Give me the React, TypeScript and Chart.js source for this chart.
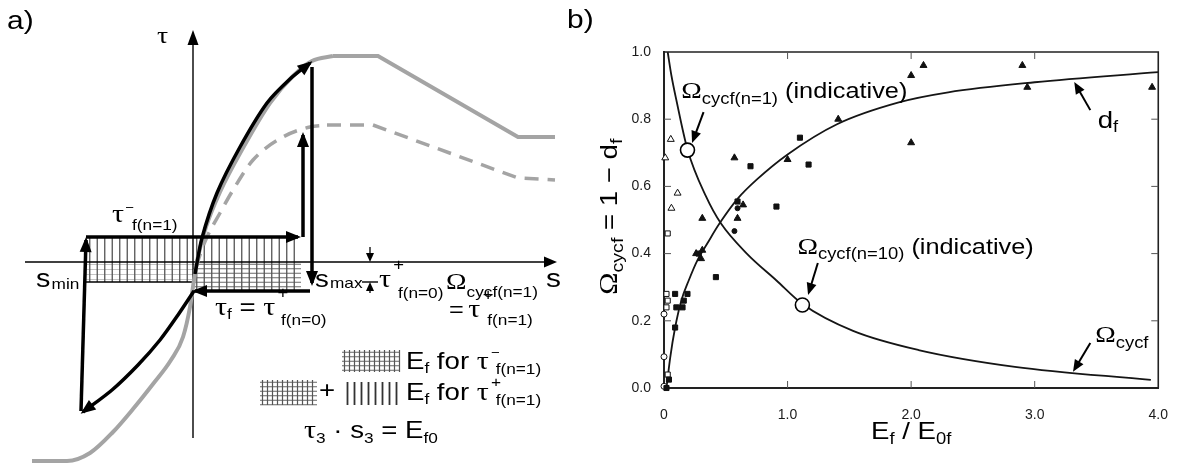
import React, { useEffect, useRef } from 'react';
import { Chart, registerables } from 'chart.js';

Chart.register(...registerables);

const SANS = '"Liberation Sans", Arial, Helvetica, sans-serif';
const SERIF = '"Liberation Serif", "Times New Roman", Times, serif';
const SX = 1.15;
const fnt = (size: number, fam: string = SANS) => `${size}px ${fam}`;

type Pt = { x: number; y: number };
const P = (a: number[][]): Pt[] => a.map(([x, y]) => ({ x, y }));

// ---------------- Panel a: schematic (s, tau) units ----------------
const envelopeCurve = [[-1.61, -1.99], [-1.26, -1.99], [-1.03, -1.91], [-0.8, -1.7], [-0.6, -1.47], [-0.4, -1.22], [-0.22, -0.98], [-0.1, -0.75], [-0.03, -0.45], [0.01, -0.18], [0.05, 0.05], [0.13, 0.35], [0.27, 0.7], [0.5, 1.14], [0.77, 1.59], [1.0, 1.86], [1.19, 2.01], [1.4, 2.06]];
const envelopeTail = [[1.4, 2.06], [1.85, 2.06], [3.25, 1.25], [3.62, 1.25]];
const degradedCurve = [[0.03, -0.05], [0.08, 0.1], [0.14, 0.25], [0.27, 0.49], [0.4, 0.72], [0.6, 1.02], [0.9, 1.25], [1.17, 1.35], [1.34, 1.37]];
const degradedTail = [[1.34, 1.37], [1.8, 1.37], [3.25, 0.84], [3.62, 0.82]];

const loadingPath = [[0.02, -0.12], [0.09, 0.24], [0.24, 0.69], [0.47, 1.15], [0.74, 1.59], [0.97, 1.83], [1.17, 1.99]];
const dropPath = [[1.19, 1.95], [1.19, -0.21]];
const frictionPath = [[1.17, -0.29], [0.02, -0.29]];
const reversePath = [[0.01, -0.29], [-0.15, -0.53], [-0.33, -0.78], [-0.55, -1.03], [-0.81, -1.28], [-1.1, -1.5]];
const minPath = [[-1.12, -1.49], [-1.07, 0.22]];
const returnPath = [[-1.07, 0.25], [1.05, 0.25]];
const reloadPath = [[1.1, 0.25], [1.1, 1.27]];

const S_MIN = -1.07;
const S_MAX = 1.06;
const TAU_MINUS = 0.25;
const TAU_PLUS0 = -0.2;
const TAU_F = -0.29;
const S_AXIS = [-1.68, 3.64];
const TAU_AXIS = [-1.76, 2.32];

// ---------------- Panel b: data ----------------
const xTickValues = [0, 1, 2, 3, 4];
const xTickLabels = ['0', '1.0', '2.0', '3.0', '4.0'];
const yTickValues = [0, 0.2, 0.4, 0.6, 0.8, 1.0];
const yTickLabels = ['0.0', '0.2', '0.4', '0.6', '0.8', '1.0'];
const xInnerTicks = [1, 2, 3];
const yInnerTicks = [0.2, 0.4, 0.6, 0.8];

const dfCurve = [[0.02, 0.0], [0.05, 0.09], [0.09, 0.18], [0.14, 0.26], [0.2, 0.32], [0.27, 0.38], [0.35, 0.43], [0.45, 0.49], [0.6, 0.565], [0.75, 0.62], [1.0, 0.695], [1.4, 0.785], [1.9, 0.85], [2.3, 0.88], [3.0, 0.91], [4.0, 0.94]];
const omegaCurve = [[0.03, 1.0], [0.06, 0.93], [0.1, 0.857], [0.19, 0.71], [0.34, 0.57], [0.46, 0.49], [0.67, 0.4], [0.91, 0.32], [1.12, 0.25], [1.53, 0.17], [2.06, 0.113], [2.84, 0.063], [3.94, 0.024]];
const cycleMarkers = [[0.19, 0.708], [1.12, 0.247]];

const filledTriangles = [[0.57, 0.685], [1.0, 0.68], [0.31, 0.505], [0.64, 0.545], [0.595, 0.505], [0.26, 0.4], [0.31, 0.41], [0.3, 0.385], [1.41, 0.8], [2.0, 0.73], [2.0, 0.93], [2.1, 0.96], [2.9, 0.96], [2.94, 0.895], [3.95, 0.895]];
const filledSquares = [[0.7, 0.66], [1.1, 0.745], [1.17, 0.665], [0.595, 0.555], [0.91, 0.54], [0.42, 0.33], [0.09, 0.28], [0.19, 0.28], [0.16, 0.26], [0.1, 0.24], [0.15, 0.24], [0.09, 0.18], [0.04, 0.025], [0.02, 0.0], [0.28, 0.4]];
const filledCircles = [[0.595, 0.535], [0.57, 0.467]];
const openTriangles = [[0.055, 0.74], [0.01, 0.685], [0.11, 0.58], [0.06, 0.535]];
const openSquares = [[0.03, 0.46], [0.02, 0.28], [0.03, 0.26], [0.02, 0.24], [0.03, 0.04]];
const openCircles = [[0.0, 0.22], [0.0, 0.093], [0.0, 0.005]];

// ---------------- helpers ----------------
type Part = { t: string; f: string; dy?: number; dx?: number; adv?: boolean };

function rich(ctx: CanvasRenderingContext2D, x: number, y: number, parts: Part[], align = 'left', rot = 0) {
  ctx.save();
  ctx.translate(x, y);
  if (rot) ctx.rotate(rot);
  ctx.scale(SX, 1);
  ctx.textBaseline = 'alphabetic';
  ctx.textAlign = 'left';
  let w = 0;
  for (const p of parts) {
    ctx.font = p.f;
    w += (p.dx || 0) + (p.adv === false ? 0 : ctx.measureText(p.t).width);
  }
  let cx = align === 'center' ? -w / 2 : align === 'right' ? -w : 0;
  ctx.fillStyle = '#000';
  for (const p of parts) {
    ctx.font = p.f;
    cx += p.dx || 0;
    ctx.fillText(p.t, cx, p.dy || 0);
    if (p.adv !== false) cx += ctx.measureText(p.t).width;
  }
  ctx.restore();
}

function drawHead(ctx: CanvasRenderingContext2D, x0: number, y0: number, x1: number, y1: number, len: number, hw: number, ext = 0) {
  const a = Math.atan2(y1 - y0, x1 - x0);
  const c = Math.cos(a), s = Math.sin(a);
  const tx = x1 + c * ext, ty = y1 + s * ext;
  const bx = tx - c * len, by = ty - s * len;
  ctx.beginPath();
  ctx.moveTo(tx, ty);
  ctx.lineTo(bx - s * hw, by + c * hw);
  ctx.lineTo(bx + s * hw, by - c * hw);
  ctx.closePath();
  ctx.fill();
}

function arrow(ctx: CanvasRenderingContext2D, x0: number, y0: number, x1: number, y1: number, lw: number, len: number, hw: number) {
  const a = Math.atan2(y1 - y0, x1 - x0);
  ctx.lineWidth = lw;
  ctx.beginPath();
  ctx.moveTo(x0, y0);
  ctx.lineTo(x1 - Math.cos(a) * len * 0.6, y1 - Math.sin(a) * len * 0.6);
  ctx.stroke();
  drawHead(ctx, x0, y0, x1, y1, len, hw);
}

function vlines(ctx: CanvasRenderingContext2D, x0: number, x1: number, y0: number, y1: number, step: number, color: string, lw: number) {
  ctx.strokeStyle = color;
  ctx.lineWidth = lw;
  ctx.beginPath();
  for (let x = Math.min(x0, x1) + step / 2; x < Math.max(x0, x1); x += step) {
    ctx.moveTo(x, y0);
    ctx.lineTo(x, y1);
  }
  ctx.stroke();
}
function hlines(ctx: CanvasRenderingContext2D, x0: number, x1: number, y0: number, y1: number, step: number, color: string, lw: number) {
  ctx.strokeStyle = color;
  ctx.lineWidth = lw;
  ctx.beginPath();
  for (let y = Math.min(y0, y1) + step / 2; y < Math.max(y0, y1); y += step) {
    ctx.moveTo(x0, y);
    ctx.lineTo(x1, y);
  }
  ctx.stroke();
}

const tau = (size = 26): Part => ({ t: 'τ', f: fnt(size, SERIF) });
const om = (size = 24): Part => ({ t: 'Ω', f: fnt(size, SERIF) });

const labelsA: { s: number; y: number; parts: Part[] }[] = [
  { s: -0.36, y: 2.19, parts: [tau(24)] },
  { s: -0.81, y: 0.4, parts: [tau(), { t: '−', f: fnt(13), dx: 1, dy: -10, adv: false }, { t: 'f(n=1)', f: fnt(15), dx: 6, dy: 8 }] },
  { s: -1.57, y: -0.25, parts: [{ t: 's', f: fnt(25) }, { t: 'min', f: fnt(15), dx: 1, dy: 2 }] },
  { s: 1.22, y: -0.25, parts: [{ t: 's', f: fnt(24) }, { t: 'max', f: fnt(15), dx: 1, dy: 1 }] },
  { s: 1.86, y: -0.25, parts: [tau(), { t: '+', f: fnt(16), dx: 2, dy: -17, adv: false }, { t: 'f(n=0)', f: fnt(15), dx: 4, dy: 11 }] },
  { s: 2.53, y: -0.27, parts: [om(24), { t: 'cycf(n=1)', f: fnt(15), dy: 8 }] },
  { s: 2.56, y: -0.55, parts: [{ t: '=', f: fnt(22) }, { t: 'τ', f: fnt(26, SERIF), dx: 4 }, { t: '+', f: fnt(16), dx: 2, dy: -17, adv: false }, { t: 'f(n=1)', f: fnt(15), dx: 4, dy: 8 }] },
  { s: 0.22, y: -0.53, parts: [tau(), { t: 'f', f: fnt(15), dy: 4 }, { t: ' = ', f: fnt(24) }, tau(), { t: '+', f: fnt(16), dx: 2, dy: -17, adv: false }, { t: 'f(n=0)', f: fnt(15), dx: 3, dy: 10 }] },
  { s: 3.53, y: -0.25, parts: [{ t: 's', f: fnt(26) }] },
  { s: 2.13, y: -1.07, parts: [{ t: 'E', f: fnt(24) }, { t: 'f', f: fnt(15), dy: 4 }, { t: ' for ', f: fnt(24) }, tau(), { t: '−', f: fnt(13), dx: 2, dy: -12, adv: false }, { t: 'f(n=1)', f: fnt(15), dx: 4, dy: 5 }] },
  { s: 2.13, y: -1.38, parts: [{ t: 'E', f: fnt(24) }, { t: 'f', f: fnt(15), dy: 4 }, { t: ' for ', f: fnt(24) }, tau(), { t: '+', f: fnt(15), dx: 2, dy: -13, adv: false }, { t: 'f(n=1)', f: fnt(15), dx: 4, dy: 5 }] },
  { s: 1.26, y: -1.36, parts: [{ t: '+', f: fnt(24) }] },
  { s: 1.11, y: -1.76, parts: [tau(), { t: '3', f: fnt(15), dy: 5 }, { t: ' · ', f: fnt(24) }, { t: 's', f: fnt(24) }, { t: '3', f: fnt(15), dy: 5 }, { t: ' = ', f: fnt(24) }, { t: 'E', f: fnt(24) }, { t: 'f0', f: fnt(15), dy: 5 }] },
];

const swatchGridA = { s0: 1.49, s1: 2.07, t0: -0.88, t1: -1.1 };
const swatchGridB = { s0: 0.67, s1: 1.24, t0: -1.18, t1: -1.43 };
const swatchLines = { s0: 1.51, s1: 2.07, t0: -1.2, t1: -1.43 };

const panelAPlugin = {
  id: 'panelA',
  beforeDatasetsDraw(chart: any) {
    const { ctx, scales } = chart;
    const X = (v: number) => scales.x.getPixelForValue(v);
    const Y = (v: number) => scales.y.getPixelForValue(v);
    ctx.save();
    hlines(ctx, X(S_MIN), X(0), Y(TAU_PLUS0), Y(0), 5, '#c4c4c4', 1);
    hlines(ctx, X(0), X(S_MAX + 0.02), Y(TAU_F), Y(0), 4.5, '#6a6a6a', 1);
    vlines(ctx, X(S_MIN), X(0), Y(TAU_PLUS0), Y(TAU_MINUS), 7.5, '#555', 1.3);
    vlines(ctx, X(0), X(S_MAX), Y(TAU_F), Y(TAU_MINUS), 7.5, '#555', 1.3);
    ctx.strokeStyle = '#000';
    ctx.lineWidth = 1.4;
    ctx.beginPath();
    ctx.moveTo(X(S_MIN), Y(TAU_PLUS0));
    ctx.lineTo(X(0), Y(TAU_PLUS0));
    ctx.stroke();
    const sw = (b: any, grid: boolean) => {
      if (grid) {
        hlines(ctx, X(b.s0), X(b.s1), Y(b.t0), Y(b.t1), 4.5, '#666', 1);
        vlines(ctx, X(b.s0), X(b.s1), Y(b.t0), Y(b.t1), 5, '#555', 1.2);
      } else {
        vlines(ctx, X(b.s0), X(b.s1), Y(b.t0), Y(b.t1), 7, '#333', 1.8);
      }
    };
    sw(swatchGridA, true);
    sw(swatchGridB, true);
    sw(swatchLines, false);
    ctx.strokeStyle = '#000';
    ctx.fillStyle = '#000';
    arrow(ctx, X(S_AXIS[0]), Y(0), X(S_AXIS[1]), Y(0), 1.4, 13, 5.5);
    arrow(ctx, X(0), Y(TAU_AXIS[0]), X(0), Y(TAU_AXIS[1]), 1.4, 15, 5.5);
    ctx.restore();
  },
  afterDatasetsDraw(chart: any) {
    const { ctx, scales } = chart;
    const X = (v: number) => scales.x.getPixelForValue(v);
    const Y = (v: number) => scales.y.getPixelForValue(v);
    ctx.save();
    ctx.fillStyle = '#000';
    ctx.strokeStyle = '#000';
    chart.data.datasets.forEach((ds: any, i: number) => {
      if (!ds.arrowHead) return;
      const pts = chart.getDatasetMeta(i).data;
      const a = pts[pts.length - 2], b = pts[pts.length - 1];
      drawHead(ctx, a.x, a.y, b.x, b.y, 15, 6, 3);
    });
    const sd = 1.77;
    arrow(ctx, X(sd), Y(0.15), X(sd), Y(0), 1.3, 9, 4);
    arrow(ctx, X(sd), Y(-0.31), X(sd), Y(TAU_PLUS0), 1.3, 9, 4);
    ctx.lineWidth = 1.4;
    ctx.beginPath();
    ctx.moveTo(X(1.69), Y(TAU_PLUS0));
    ctx.lineTo(X(1.85), Y(TAU_PLUS0));
    ctx.stroke();
    for (const l of labelsA) rich(ctx, X(l.s), Y(l.y), l.parts);
    rich(ctx, 7, 29, [{ t: 'a)', f: fnt(26) }]);
    ctx.restore();
  },
};

const panelBPlugin = {
  id: 'panelB',
  afterDraw(chart: any) {
    const { ctx, chartArea: ca, scales } = chart;
    const X = (v: number) => scales.x.getPixelForValue(v);
    const Y = (v: number) => scales.y.getPixelForValue(v);
    ctx.save();
    ctx.strokeStyle = '#222';
    ctx.lineWidth = 1.6;
    ctx.beginPath();
    ctx.moveTo(ca.left, ca.top);
    ctx.lineTo(ca.right, ca.top);
    ctx.lineTo(ca.right, ca.bottom);
    ctx.stroke();
    ctx.strokeStyle = '#555';
    ctx.lineWidth = 1;
    ctx.beginPath();
    for (const v of xInnerTicks) {
      ctx.moveTo(X(v), ca.bottom); ctx.lineTo(X(v), ca.bottom - 7);
      ctx.moveTo(X(v), ca.top); ctx.lineTo(X(v), ca.top + 7);
    }
    for (const v of yInnerTicks) {
      ctx.moveTo(ca.left, Y(v)); ctx.lineTo(ca.left + 7, Y(v));
      ctx.moveTo(ca.right, Y(v)); ctx.lineTo(ca.right - 7, Y(v));
    }
    ctx.stroke();
    ctx.strokeStyle = '#000';
    ctx.fillStyle = '#000';
    const arrs = [
      [0.32, 0.821, 0.227, 0.729],
      [1.245, 0.372, 1.166, 0.277],
      [3.45, 0.827, 3.32, 0.911],
      [3.45, 0.134, 3.31, 0.048],
    ];
    for (const [a, b, c, d] of arrs) arrow(ctx, X(a), Y(b), X(c), Y(d), 2, 12, 5);
    rich(ctx, X(0.14), Y(0.863), [om(24), { t: 'cycf(n=1)', f: fnt(16), dy: 6 }, { t: ' (indicative)', f: fnt(22) }]);
    rich(ctx, X(1.08), Y(0.4), [om(24), { t: 'cycf(n=10)', f: fnt(16), dy: 5 }, { t: ' (indicative)', f: fnt(22) }]);
    rich(ctx, X(3.51), Y(0.774), [{ t: 'd', f: fnt(24) }, { t: 'f', f: fnt(16), dy: 4 }]);
    rich(ctx, X(3.49), Y(0.137), [om(24), { t: 'cycf', f: fnt(16), dy: 6 }]);
    rich(ctx, X(2.0), ca.bottom + 51, [{ t: 'E', f: fnt(24) }, { t: 'f', f: fnt(16), dy: 5 }, { t: ' / E', f: fnt(24) }, { t: '0f', f: fnt(16), dy: 5 }], 'center');
    rich(ctx, 57, Y(0.51), [om(26), { t: 'cycf', f: fnt(17), dy: 6 }, { t: ' = 1 − d', f: fnt(24) }, { t: 'f', f: fnt(17), dy: 5 }], 'center', -Math.PI / 2);
    rich(ctx, 7, 28, [{ t: 'b)', f: fnt(26) }]);
    ctx.restore();
  },
};

function lineDs(data: number[][], opts: any) {
  return { data: P(data), showLine: true, pointRadius: 0, pointHoverRadius: 0, borderColor: '#000', borderWidth: 3.5, fill: false, clip: false, tension: 0, ...opts };
}

function markerDs(data: number[][], style: string, filled: boolean, r: number) {
  return {
    data: P(data), showLine: false, pointStyle: style, pointRadius: r, pointHoverRadius: r,
    backgroundColor: filled ? '#111' : '#fff', borderColor: '#111', borderWidth: 1, clip: false, order: 1,
  };
}

export default function App() {
  const refA = useRef<HTMLCanvasElement>(null);
  const refB = useRef<HTMLCanvasElement>(null);

  useEffect(() => {
    const GRAY = '#a4a4a4';
    const chartA = new Chart(refA.current as HTMLCanvasElement, {
      type: 'scatter',
      data: {
        datasets: [
          lineDs(loadingPath, { tension: 0.3, arrowHead: true, order: 0 }),
          lineDs(dropPath, { arrowHead: true, order: 0 }),
          lineDs(frictionPath, { arrowHead: true, order: 0 }),
          lineDs(reversePath, { tension: 0.3, arrowHead: true, order: 0 }),
          lineDs(minPath, { arrowHead: true, order: 0 }),
          lineDs(returnPath, { arrowHead: true, order: 0 }),
          lineDs(reloadPath, { arrowHead: true, order: 0 }),
          lineDs(envelopeCurve, { borderColor: GRAY, borderWidth: 4, cubicInterpolationMode: 'monotone', order: 5 }),
          lineDs(envelopeTail, { borderColor: GRAY, borderWidth: 4, order: 5 }),
          lineDs(degradedCurve, { borderColor: GRAY, borderWidth: 3.5, borderDash: [14, 9], cubicInterpolationMode: 'monotone', order: 5 }),
          lineDs(degradedTail, { borderColor: GRAY, borderWidth: 3.5, borderDash: [14, 9], order: 5 }),
        ] as any,
      },
      options: {
        responsive: false,
        animation: false,
        devicePixelRatio: 1,
        events: [],
        plugins: { legend: { display: false }, tooltip: { enabled: false } },
        scales: {
          x: { type: 'linear', min: -1.93, max: 3.67, display: false },
          y: { type: 'linear', min: -2.01, max: 2.62, display: false },
        },
      } as any,
      plugins: [panelAPlugin],
    });

    const tickFont = { family: SANS, size: 14 };
    const chartB = new Chart(refB.current as HTMLCanvasElement, {
      type: 'scatter',
      data: {
        datasets: [
          { data: P(cycleMarkers), showLine: false, pointRadius: 7, pointHoverRadius: 7, backgroundColor: '#fff', borderColor: '#000', borderWidth: 1.6, clip: false, order: 0 },
          markerDs(filledTriangles, 'triangle', true, 4),
          markerDs(filledSquares, 'rect', true, 3.6),
          markerDs(filledCircles, 'circle', true, 2.5),
          markerDs(openTriangles, 'triangle', false, 4),
          markerDs(openSquares, 'rect', false, 3.6),
          markerDs(openCircles, 'circle', false, 3),
          lineDs(dfCurve, { borderColor: '#151515', borderWidth: 1.8, cubicInterpolationMode: 'monotone', order: 3 }),
          lineDs(omegaCurve, { borderColor: '#151515', borderWidth: 1.8, cubicInterpolationMode: 'monotone', order: 3 }),
        ] as any,
      },
      options: {
        responsive: false,
        animation: false,
        devicePixelRatio: 1,
        events: [],
        layout: { padding: { left: 0, top: 52, right: 12, bottom: 0 } },
        plugins: { legend: { display: false }, tooltip: { enabled: false } },
        scales: {
          x: {
            type: 'linear', min: 0, max: 4,
            afterFit: (s: any) => { s.height = 75; },
            afterBuildTicks: (s: any) => { s.ticks = xTickValues.map((v) => ({ value: v })); },
            ticks: { padding: 19, font: tickFont, color: '#1a1a1a', callback: (v: any) => xTickLabels[xTickValues.indexOf(Number(v))] ?? '' },
            grid: { display: false, drawTicks: false },
            border: { display: true, color: '#222', width: 2 },
          },
          y: {
            type: 'linear', min: 0, max: 1,
            afterFit: (s: any) => { s.width = 104; },
            afterBuildTicks: (s: any) => { s.ticks = yTickValues.map((v) => ({ value: v })); },
            ticks: { padding: 13, font: tickFont, color: '#1a1a1a', callback: (v: any) => yTickLabels[Math.round(Number(v) * 5)] ?? '' },
            grid: { display: false, drawTicks: false },
            border: { display: true, color: '#222', width: 2 },
          },
        },
      } as any,
      plugins: [panelBPlugin],
    });

    return () => {
      chartA.destroy();
      chartB.destroy();
    };
  }, []);

  return (
    <div style={{ position: 'fixed', left: 0, top: 0, width: 1187, height: 463, background: '#fff', overflow: 'hidden' }}>
      <canvas ref={refA} width={560} height={463} style={{ position: 'absolute', left: 0, top: 0, width: 560, height: 463 }} />
      <canvas ref={refB} width={627} height={463} style={{ position: 'absolute', left: 560, top: 0, width: 627, height: 463 }} />
    </div>
  );
}
